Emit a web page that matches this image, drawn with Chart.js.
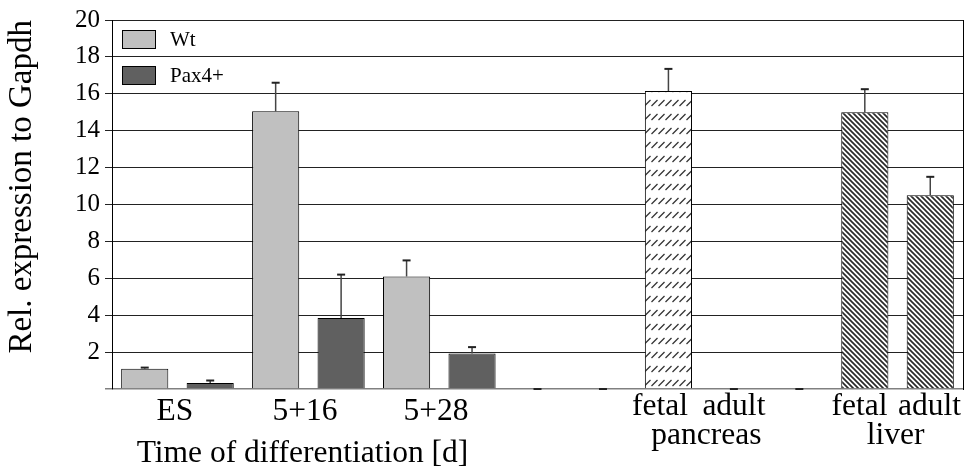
<!DOCTYPE html>
<html>
<head>
<meta charset="utf-8">
<title>Rel. expression to Gapdh</title>
<script src="https://cdn.jsdelivr.net/npm/chart.js@4.4.1/dist/chart.umd.min.js"></script>
<style>
  html, body { margin: 0; padding: 0; background: #fff; }
  #wrap { width: 970px; height: 473px; }
</style>
</head>
<body>
<div id="wrap"><canvas id="chart" width="970" height="473"></canvas></div>
<script>
// Thirteen bar slots along the x axis
const slots = ['ES Wt', 'ES Pax4+', '5+16 Wt', '5+16 Pax4+', '5+28 Wt', '5+28 Pax4+',
               'gap 1', 'gap 2', 'fetal pancreas', 'adult pancreas', 'gap 3', 'fetal liver', 'adult liver'];

// Wild type ES cells during differentiation
const wtValues = [1.1, null, 15.05, null, 6.1, null, null, null, null, null, null, null, null];
const wtErrors = [0.06, null, 1.55, null, 0.87, null, null, null, null, null, null, null, null];

// Pax4+ ES cells during differentiation
const paxValues = [null, 0.33, null, 3.85, null, 1.92, null, null, null, null, null, null, null];
const paxErrors = [null, 0.13, null, 2.35, null, 0.35, null, null, null, null, null, null, null];

// Reference tissues
const tissueValues = [null, null, null, null, null, null, 0, 0, 16.15, 0, 0, 15.0, 10.5];
const tissueErrors = [null, null, null, null, null, null, 0, 0, 1.2, 0, 0, 1.25, 1.0];

// Y axis ticks
const yTicks = [0, 2, 4, 6, 8, 10, 12, 14, 16, 18, 20];

// X axis text
const timeLabels = ['ES', '5+16', '5+28'];
const tissueLabels = ['fetal', 'adult', 'fetal', 'adult'];
const organLabels = ['pancreas', 'liver'];
const timeCaption = 'Time of differentiation [d]';

const FONT = 'Liberation Serif';

// Fill patterns for tissue bars
function makePattern(w, h, draw) {
  const c = document.createElement('canvas');
  c.width = w; c.height = h;
  const g = c.getContext('2d');
  g.fillStyle = '#fff';
  g.fillRect(0, 0, w, h);
  draw(g);
  return document.getElementById('chart').getContext('2d').createPattern(c, 'repeat');
}
const pancreasFill = makePattern(7, 14, g => {
  g.strokeStyle = '#333';
  g.lineWidth = 1.2;
  g.beginPath();
  g.moveTo(0.5, 8);
  g.lineTo(6.5, 2);
  g.stroke();
});
const liverFill = makePattern(5, 5, g => {
  g.strokeStyle = '#2a2a2a';
  g.lineWidth = 1.7;
  g.beginPath();
  g.moveTo(-1, -1); g.lineTo(6, 6);
  g.moveTo(-1, 4); g.lineTo(1, 6);
  g.moveTo(4, -1); g.lineTo(6, 1);
  g.stroke();
});
const tissueFills = tissueValues.map((v, i) =>
  i === 8 ? pancreasFill : (i === 11 || i === 12) ? liverFill : 'rgba(0,0,0,0)');

// Label axis ticks: value on the slot scale, text, line height
const labelTicks = [
  { value: 0.46, text: timeLabels[0], lh: '36px' },
  { value: 2.41, text: ['', timeCaption], lh: '40px' },
  { value: 2.45, text: timeLabels[1], lh: '36px' },
  { value: 4.45, text: timeLabels[2], lh: '36px' },
  { value: 7.87, text: tissueLabels[0], lh: '26px' },
  { value: 8.58, text: ['', organLabels[0]], lh: '28px' },
  { value: 9.0, text: tissueLabels[1], lh: '26px' },
  { value: 10.92, text: tissueLabels[2], lh: '26px' },
  { value: 11.47, text: ['', organLabels[1]], lh: '28px' },
  { value: 11.99, text: tissueLabels[3], lh: '26px' }
];

// Upward error bars with caps
const errorBars = {
  id: 'errorBars',
  afterDatasetsDraw(chart) {
    const { ctx } = chart;
    const yScale = chart.scales.y;
    chart.data.datasets.forEach((ds, di) => {
      const meta = chart.getDatasetMeta(di);
      if (!ds.errors) return;
      ds.errors.forEach((e, i) => {
        const v = ds.data[i];
        if (e == null || v == null) return;
        const bar = meta.data[i];
        const x = bar.x;
        const y0 = yScale.getPixelForValue(v);
        const y1 = yScale.getPixelForValue(v + e);
        ctx.save();
        ctx.strokeStyle = '#444';
        ctx.lineWidth = 1.5;
        if (y0 - y1 > 0.5) {
          ctx.beginPath();
          ctx.moveTo(x, y0);
          ctx.lineTo(x, y1);
          ctx.stroke();
        }
        ctx.strokeStyle = '#222';
        ctx.lineWidth = 2;
        ctx.beginPath();
        ctx.moveTo(x - 4, y1);
        ctx.lineTo(x + 4, y1);
        ctx.stroke();
        ctx.restore();
      });
    });
  }
};

// Legend drawn inside the plot area, top left
const insetLegend = {
  id: 'insetLegend',
  afterDraw(chart, args, opts) {
    const { ctx, chartArea } = chart;
    ctx.save();
    opts.datasets.forEach((di, k) => {
      const ds = chart.data.datasets[di];
      const bx = chartArea.left + 10;
      const by = chartArea.top + 10 + k * 36;
      ctx.fillStyle = ds.backgroundColor;
      ctx.fillRect(bx, by, 34, 19);
      ctx.strokeStyle = '#000';
      ctx.lineWidth = 1;
      ctx.strokeRect(bx + 0.5, by + 0.5, 33, 18);
      ctx.fillStyle = '#000';
      ctx.font = opts.fontSize + 'px "' + FONT + '"';
      ctx.textBaseline = 'middle';
      ctx.textAlign = 'left';
      ctx.fillText(ds.label, bx + 48, by + 10);
    });
    ctx.restore();
  }
};

const barShape = {
  xAxisID: 'x',
  yAxisID: 'y',
  grouped: false,
  categoryPercentage: 1,
  barPercentage: 0.72,
  borderColor: '#000',
  borderWidth: 1,
  borderSkipped: 'start'
};

new Chart(document.getElementById('chart'), {
  type: 'bar',
  data: {
    labels: slots,
    datasets: [
      Object.assign({ label: 'Wt', data: wtValues, errors: wtErrors, backgroundColor: '#c0c0c0' }, barShape),
      Object.assign({ label: 'Pax4+', data: paxValues, errors: paxErrors, backgroundColor: '#606060' }, barShape),
      Object.assign({ label: 'Tissue', data: tissueValues, errors: tissueErrors, backgroundColor: tissueFills }, barShape)
    ]
  },
  options: {
    responsive: false,
    animation: false,
    layout: { padding: { top: 16, right: 7, left: 0, bottom: 0 } },
    plugins: {
      legend: { display: false },
      tooltip: { enabled: false },
      insetLegend: { datasets: [0, 1], fontSize: 21 }
    },
    scales: {
      x: {
        type: 'category',
        display: false,
        offset: true
      },
      xl: {
        type: 'linear',
        position: 'bottom',
        min: -0.5,
        max: 12.5,
        offset: false,
        bounds: 'data',
        grid: { display: false, drawTicks: false, offset: false },
        border: { display: false },
        afterBuildTicks: scale => { scale.ticks = labelTicks.map(t => ({ value: t.value })); },
        afterFit: scale => { scale.height = 84; },
        ticks: {
          autoSkip: false,
          maxRotation: 0,
          minRotation: 0,
          padding: 5,
          color: '#000',
          font: ctx => ({ family: FONT, size: 31.5, lineHeight: labelTicks[ctx.index] ? labelTicks[ctx.index].lh : '36px' }),
          callback: (value, index) => labelTicks[index].text
        }
      },
      y: {
        type: 'linear',
        position: 'left',
        min: 0,
        max: 20,
        afterBuildTicks: scale => { scale.ticks = yTicks.map(v => ({ value: v })); },
        afterFit: scale => { scale.width = 112; },
        grid: {
          color: ctx => ctx.tick && ctx.tick.value === 0 ? '#808080' : '#222',
          lineWidth: ctx => ctx.tick && ctx.tick.value === 0 ? 1.5 : 1,
          tickColor: ctx => ctx.tick && ctx.tick.value === 0 ? '#808080' : '#222',
          tickLength: 7,
          drawTicks: true
        },
        border: { display: true, color: '#000', width: 1 },
        ticks: {
          padding: 5,
          color: '#000',
          font: { family: FONT, size: 25 },
          callback: v => v === 0 ? '' : String(v)
        },
        title: {
          display: true,
          text: 'Rel. expression to Gapdh',
          align: 'end',
          color: '#000',
          font: { family: FONT, size: 33 },
          padding: { top: 3, bottom: 0 }
        }
      },
      y2: {
        type: 'linear',
        position: 'right',
        min: 0,
        max: 20,
        afterFit: scale => { scale.width = 0; },
        grid: { display: false, drawTicks: false },
        ticks: { display: false },
        border: { display: true, color: '#000', width: 1 }
      }
    }
  },
  plugins: [errorBars, insetLegend]
});
</script>
</body>
</html>
